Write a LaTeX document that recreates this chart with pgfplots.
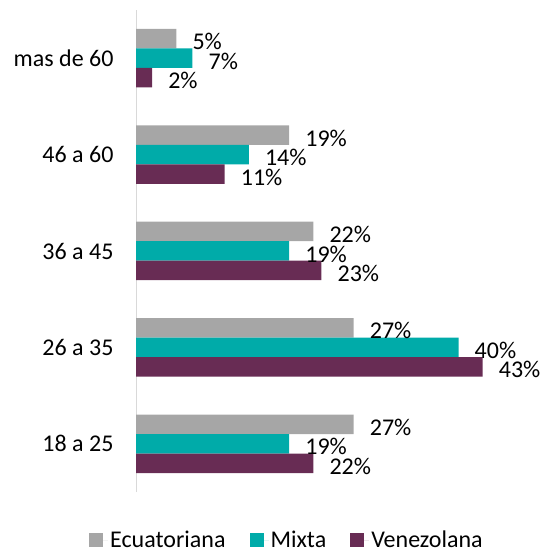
\documentclass[border=0pt]{standalone}
\usepackage{fontspec}
\setmainfont{Carlito}
\usepackage{pgfplots}
\pgfplotsset{compat=1.18}
\definecolor{ecuacolor}{RGB}{166,166,166}
\definecolor{mixtacolor}{RGB}{0,171,169}
\definecolor{venecolor}{RGB}{104,44,84}
\definecolor{axisgray}{RGB}{217,217,217}

\begin{document}
\begin{tikzpicture}
\begin{axis}[
  name=main,
  scale only axis,
  width=387pt, height=482pt,
  xbar, bar width=19.5pt,
  xmin=0, xmax=48,
  ymin=-0.5, ymax=4.5,
  axis x line=none,
  axis y line*=left,
  y axis line style={draw=axisgray, line width=1pt, -},
  ytick={0,1,2,3,4},
  yticklabels={18 a 25, 26 a 35, 36 a 45, 46 a 60, mas de 60},
  major tick length=0pt,
  yticklabel style={font=\fontsize{24}{26}\selectfont, xshift=-19pt},
  /pgf/number format/assume math mode=true,
  nodes near coords={\pgfmathprintnumber{\pgfplotspointmeta}\%},
  every node near coord/.append style={font=\fontsize{24}{26}\selectfont,
    anchor=west, xshift=15pt, yshift=-3pt, text=black, inner sep=1pt},
  legend columns=3,
  legend style={at={(0.39,0)}, anchor=north, yshift=-35pt, draw=none,
    font=\fontsize{24}{26}\selectfont, /tikz/every even column/.append style={column sep=22pt}},
  legend image code/.code={\path (0pt,0pt) rectangle (19pt,0pt);
    \fill[#1] (0pt,-7pt) rectangle (14pt,7pt);},
]
\addplot[fill=ecuacolor, draw=none, bar shift=19.5pt] coordinates {
  (27,0) (27,1) (22,2) (19,3) (5,4)
};
\addlegendentry{Ecuatoriana}
\addplot[fill=mixtacolor, draw=none, bar shift=0pt] coordinates {
  (19,0) (40,1) (19,2) (14,3) (7,4)
};
\addlegendentry{Mixta}
\addplot[fill=venecolor, draw=none, bar shift=-19.5pt] coordinates {
  (22,0) (43,1) (23,2) (11,3) (2,4)
};
\addlegendentry{Venezolana}
\end{axis}
\pgfresetboundingbox
\path ([shift={(-136pt,-61pt)}]main.south west) rectangle ([shift={(18pt,10pt)}]main.north east);
\end{tikzpicture}
\end{document}
